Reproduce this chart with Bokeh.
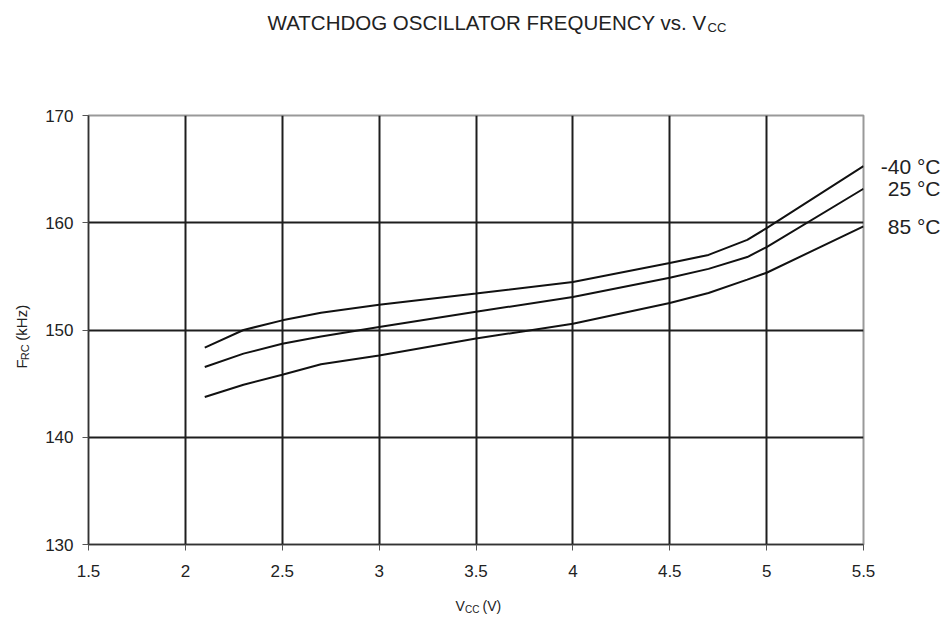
import math
from bokeh.plotting import figure
from bokeh.layouts import column, row
from bokeh.models import Range1d, FixedTicker
from bokeh.core.properties import value
from bokeh.embed import file_html
from bokeh.resources import INLINE

# ---- data ----
vcc = [2.1, 2.3, 2.5, 2.7, 3.0, 3.5, 4.0, 4.5, 4.7, 4.9, 5.0, 5.5]
f_m40 = [148.35, 150.0, 150.9, 151.6, 152.36, 153.4, 154.47, 156.24, 157.0, 158.4, 159.5, 165.28]
f_25 = [146.55, 147.8, 148.72, 149.4, 150.27, 151.7, 153.07, 154.87, 155.7, 156.8, 157.73, 163.17]
f_85 = [143.75, 144.9, 145.83, 146.8, 147.63, 149.2, 150.59, 152.51, 153.45, 154.7, 155.34, 159.66]
series_names = ["-40 °C", "25 °C", "85 °C"]

x_ticks = [1.5, 2.0, 2.5, 3.0, 3.5, 4.0, 4.5, 5.0, 5.5]
x_tick_labels = ["1.5", "2", "2.5", "3", "3.5", "4", "4.5", "5", "5.5"]
y_ticks = [130, 140, 150, 160, 170]
y_tick_labels = ["130", "140", "150", "160", "170"]

FONT = "Liberation Sans"
INK = "#1e1e1e"
TXT = "#222222"

x_range = Range1d(1.5, 5.5)
y_range = Range1d(130, 170)

# ---- main plot ----
p = figure(width=835, height=524, output_backend="svg", toolbar_location=None,
           x_range=x_range, y_range=y_range,
           min_border_left=48, min_border_right=12, min_border_top=55, min_border_bottom=40)

p.outline_line_color = "#999999"
p.outline_line_width = 2

for ax, ticks, labels in ((p.xaxis[0], x_ticks, x_tick_labels), (p.yaxis[0], y_ticks, y_tick_labels)):
    ax.ticker = FixedTicker(ticks=ticks)
    ax.major_label_overrides = {t: l for t, l in zip(ticks, labels)}
    ax.minor_tick_line_color = None
    ax.major_tick_in = 0
    ax.major_tick_out = 6
    ax.major_tick_line_color = "#555555"
    ax.axis_line_color = "#333333"
    ax.axis_line_width = 1.5
    ax.major_label_text_font = FONT
    ax.major_label_text_color = TXT
    ax.major_label_text_font_size = "17px"

p.xaxis.major_label_standoff = 14
p.yaxis.major_label_standoff = 9

p.xgrid.grid_line_color = INK
p.xgrid.grid_line_width = 2
p.ygrid.grid_line_color = INK
p.ygrid.grid_line_width = 2

for ys in (f_m40, f_25, f_85):
    p.line(vcc, ys, line_color="#111111", line_width=2)


# ---- text-only panels around the plot ----
def text_fig(width, height, xr, yr, top=0, bottom=0):
    f = figure(width=width, height=height, x_range=xr, y_range=yr, output_backend="svg",
               toolbar_location=None, min_border_left=0, min_border_right=0,
               min_border_top=top, min_border_bottom=bottom,
               x_axis_location=None, y_axis_location=None)
    f.outline_line_color = None
    f.grid.visible = False
    return f


def put(f, x, y, text, size, align="left", angle=0.0):
    f.text(x=[x], y=[y], text=[text], angle=angle, text_font=value(FONT),
           text_font_size=value(size), text_align=align, text_baseline="middle",
           text_color=TXT)


# title (page coordinates, 943 x 60)
title_fig = text_fig(943, 60, Range1d(0, 943), Range1d(60, 0))
put(title_fig, 706, 22, "WATCHDOG OSCILLATOR FREQUENCY vs. V", "20.5px", align="right")
put(title_fig, 707, 26.5, "CC", "13px")

# y axis label (page coordinates, 40 x 524, page y from 60 to 584)
ylab_fig = text_fig(40, 524, Range1d(0, 40), Range1d(584, 60))
put(ylab_fig, 21, 369, "F", "15px", angle=math.pi / 2)
put(ylab_fig, 24.5, 359, "RC", "11px", angle=math.pi / 2)
put(ylab_fig, 21, 335, "(kHz)", "15px", angle=math.pi / 2)

# curve labels, aligned with the plot's own y scale
right_fig = text_fig(68, 524, Range1d(875, 943), y_range, top=55, bottom=40)
right_fig.text(x=[940] * 3, y=[f_m40[-1], f_25[-1], f_85[-1]], text=series_names,
               text_font=value(FONT), text_font_size=value("21px"), text_align="right",
               text_baseline="middle", text_color=TXT)

# x axis label (page coordinates, 943 x 32, page y from 584 to 616)
xlab_fig = text_fig(943, 32, Range1d(0, 943), Range1d(616, 584))
put(xlab_fig, 455, 605, "V", "14px")
put(xlab_fig, 464.5, 608.5, "CC", "10px")
put(xlab_fig, 482, 605, "(V)", "14px")

layout = column(title_fig, row(ylab_fig, p, right_fig), xlab_fig)

open("out.html", "w").write(file_html(layout, INLINE))
